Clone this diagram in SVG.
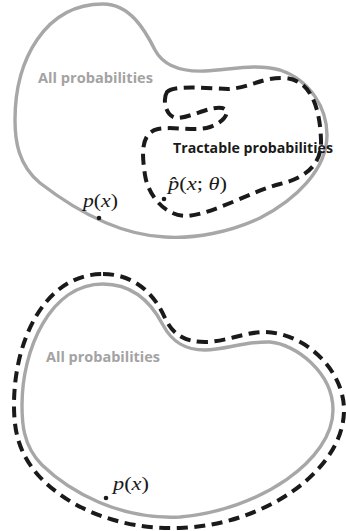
<svg xmlns="http://www.w3.org/2000/svg" width="346" height="531" viewBox="0 0 346 531">
<style>
.gray{fill:none;stroke:#a7a7a7;stroke-width:3.4;stroke-linejoin:round}
.dash{fill:none;stroke:#1a1a1a;stroke-width:4;stroke-dasharray:11 6.5}
.lab{font-family:"Open Sans",Lato,"Liberation Sans",sans-serif;font-weight:bold;font-size:15px}
.glab{fill:#a3a3a3}
.blab{fill:#1a1a1a}
.math{font-family:"Liberation Serif","DejaVu Serif",serif;font-size:19px;fill:#1a1a1a}
.it{font-style:italic}
.dot{fill:#1a1a1a}
</style>
<rect width="346" height="531" fill="#ffffff"/>
<g id="all-top">
<path class="gray" d="M 103,4 C 130,4 145,30 155,50 C 163,65 180,72 205,71 C 230,70 255,63 280,70 C 310,80 327,108 327,135 C 327,170 295,200 260,218 C 230,232 195,239 165,237 C 120,235 75,210 40,183 C 18,165 15,140 15,120 C 15,60 45,4 103,4 Z"/>
<text class="lab glab" x="38" y="83" textLength="115" lengthAdjust="spacingAndGlyphs">All probabilities</text>
</g>
<g id="tractable">
<path class="dash" d="M 167,92 C 175,85 205,88 228,89 C 250,88 262,77 285,78 C 312,80 320,110 321,140 C 322,165 305,178 280,184 C 255,190 215,213 188,216 C 165,217 148,195 145,175 C 142,155 140,133 158,129 C 175,126 195,132 210,127 C 225,122 232,110 222,108 C 210,106 192,117 178,118 C 166,118 162,100 167,92 Z"/>
<text class="lab blab" x="173" y="153" textLength="160" lengthAdjust="spacingAndGlyphs">Tractable probabilities</text>
</g>
<g id="px-top">
<circle class="dot" cx="99" cy="218" r="2.3"/>
<text class="math" x="83" y="207" textLength="35" lengthAdjust="spacingAndGlyphs"><tspan class="it">p</tspan>(<tspan class="it">x</tspan>)</text>
</g>
<g id="phat">
<circle class="dot" cx="164" cy="199" r="2.3"/>
<text class="math" x="168" y="190" textLength="59" lengthAdjust="spacingAndGlyphs"><tspan class="it">p̂</tspan>(<tspan class="it">x</tspan>; <tspan class="it">θ</tspan>)</text>
</g>
<g id="all-bottom">
<path class="gray" d="M 103,284 C 130,284 150,300 163,325 C 172,342 185,350 205,350 C 225,350 245,341 270,342 C 295,344 333,372 333,410 C 333,460 260,510 180,517 C 120,520 70,492 42,465 C 22,445 22,420 22,405 C 22,350 50,284 103,284 Z"/>
<text class="lab glab" x="46" y="362" textLength="114" lengthAdjust="spacingAndGlyphs">All probabilities</text>
</g>
<g id="tractable-bottom">
<path class="dash" d="M 103,274 C 135,274 155,295 165,318 C 173,335 185,342 205,342 C 225,342 245,332 265,332 C 305,333 344,370 344,410 C 344,470 265,525 180,528 C 115,530 65,505 38,475 C 18,452 14,430 14,405 C 14,340 45,274 103,274 Z"/>
</g>
<g id="px-bottom">
<circle class="dot" cx="106" cy="498" r="2.3"/>
<text class="math" x="113" y="490" textLength="36" lengthAdjust="spacingAndGlyphs"><tspan class="it">p</tspan>(<tspan class="it">x</tspan>)</text>
</g>
<g id="connectors"></g>
</svg>
